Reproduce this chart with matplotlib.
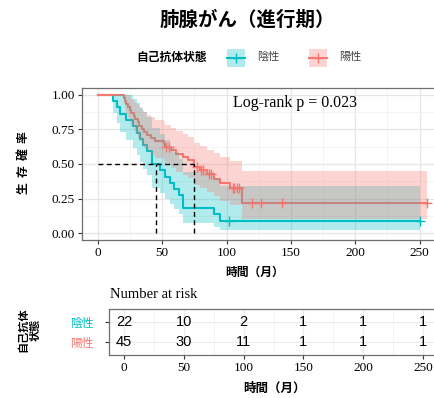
import numpy as np
import matplotlib
matplotlib.use("Agg")
import matplotlib.pyplot as plt
from matplotlib.patches import Rectangle

# ---------------- data ----------------
groups = ["陰性", "陽性"]
colors = ["#00BFC4", "#F8766D"]

# 陰性 (n=22)
neg_times = [12, 15, 17, 22, 27, 30, 33, 35, 38, 42, 42, 48, 52, 56, 59, 63, 66, 66,
             90, 95, 102, 250.4]
neg_status = [1] * 20 + [0, 0]

# 陽性 (n=45)
pos_times = [20, 21, 22, 23, 25, 26, 28, 29, 31, 32, 34, 36, 38, 41, 44,
             51, 52, 53, 55, 57, 61, 66, 70, 75, 75,
             77, 79, 80, 82, 85, 86, 88, 90, 95,
             103, 105, 106, 108, 110, 112, 112, 120, 127, 143, 256]
pos_status = [1] * 15 + [1, 1, 0, 0, 1, 1, 1, 1, 1, 1,
                         0, 1, 0, 0, 1, 0, 0, 1, 1,
                         1, 0, 0, 0, 0, 1, 1, 0, 0, 0, 0]

medians = [45, 75]
pval_text = "Log-rank p = 0.023"

risk_times = [0, 50, 100, 150, 200, 250]
risk_neg = [22, 10, 2, 1, 1, 1]
risk_pos = [45, 30, 11, 1, 1, 1]

x_ticks = [0, 50, 100, 150, 200, 250]
y_ticks = [0.0, 0.25, 0.5, 0.75, 1.0]
y_ticklabels = ["0.00", "0.25", "0.50", "0.75", "1.00"]

CJK = "Noto Sans CJK JP"
SERIF = "Liberation Serif"
SANS = "Liberation Sans"


def km(times, status):
    t = np.asarray(times, float)
    s = np.asarray(status)
    S, var = 1.0, 0.0
    xs, ys, lo, hi = [0.0], [1.0], [1.0], [1.0]
    cx, cy = [], []
    for u in np.unique(t):
        n = (t >= u).sum()
        d = ((t == u) & (s == 1)).sum()
        c = ((t == u) & (s == 0)).sum()
        if d > 0:
            S *= (n - d) / n
            if n > d:
                var += d / (n * (n - d))
        se = np.sqrt(var)
        xs.append(u); ys.append(S)
        if S > 0:
            lo.append(S * np.exp(-1.96 * se)); hi.append(min(1.0, S * np.exp(1.96 * se)))
        else:
            lo.append(0); hi.append(0)
        if c > 0:
            cx.append(u); cy.append(S)
    return xs, ys, lo, hi, cx, cy


W, H = 434, 398
fig = plt.figure(figsize=(W / 100, H / 100), dpi=100)

# ---------------- main panel ----------------
L, R, T, B = 81.9, 435.6, 87.8, 240.2
ax = fig.add_axes([L / W, 1 - B / H, (R - L) / W, (B - T) / H])
ax.set_xlim(-12.5, 262.5)
ax.set_ylim(-0.05, 1.05)

curves = [km(neg_times, neg_status), km(pos_times, pos_status)]
for (xs, ys, lo, hi, cx, cy), col in zip(curves, colors):
    ax.step(xs, ys, where="post", color=col, lw=1.5, zorder=3)
for (xs, ys, lo, hi, cx, cy), col in zip(curves, colors):
    ax.fill_between(xs, lo, hi, step="post", color=col, alpha=0.3, lw=0, zorder=4)
for (xs, ys, lo, hi, cx, cy), col in zip(curves, colors):
    ax.plot(cx, cy, ls="none", marker="+", ms=7, mew=1.0, color=col, zorder=5)

# median lines
ax.plot([0, max(medians)], [0.5, 0.5], ls=(0, (3.5, 2.5)), color="black", lw=1.0, zorder=6)
for m in medians:
    ax.plot([m, m], [0, 0.5], ls=(0, (3.5, 2.5)), color="black", lw=1.0, zorder=6)

ax.text(105, 0.94, pval_text, ha="left", va="center", fontsize=11.5, family=SERIF)

ax.set_xticks(x_ticks)
ax.set_xticklabels([str(v) for v in x_ticks], family=SERIF)
ax.set_yticks(y_ticks)
ax.set_yticklabels(y_ticklabels, family=SERIF)
ax.set_xticks([25, 75, 125, 175, 225], minor=True)
ax.set_yticks([0.125, 0.375, 0.625, 0.875], minor=True)
ax.grid(which="major", color="#E6E6E6", lw=0.9, zorder=0)
ax.grid(which="minor", color="#F2F2F2", lw=0.6, zorder=0)
ax.set_axisbelow(True)
ax.tick_params(which="major", direction="out", length=3, width=0.8, color="#333333",
               labelsize=9.5, labelcolor="black", pad=2)
ax.tick_params(which="minor", length=0)
for sp in ax.spines.values():
    sp.set_color("#6E6E6E"); sp.set_linewidth(0.9)

# ---------------- risk table ----------------
L2, R2, T2, B2 = 109.05, 438.0, 309.0, 355.0
ax2 = fig.add_axes([L2 / W, 1 - B2 / H, (R2 - L2) / W, (B2 - T2) / H])
ax2.set_xlim(-12.5, 262.5)
ax2.set_ylim(2.6, 0.4)
for row, vals in enumerate([risk_neg, risk_pos], start=1):
    for tt, v in zip(risk_times, vals):
        ax2.text(tt, row, str(v), ha="center", va="center", fontsize=10.5, family=SANS,
                 color="black")
ax2.set_xticks(x_ticks)
ax2.set_xticklabels([str(v) for v in x_ticks], family=SERIF)
ax2.set_yticks([1, 2])
ax2.set_yticklabels(groups, family=CJK)
for lab, col in zip(ax2.get_yticklabels(), colors):
    lab.set_color(col)
ax2.set_xticks([25, 75, 125, 175, 225], minor=True)
ax2.grid(which="major", color="#EBEBEB", lw=0.8, zorder=0)
ax2.grid(which="minor", axis="x", color="#F2F2F2", lw=0.6, zorder=0)
ax2.set_axisbelow(True)
ax2.tick_params(axis="x", which="major", direction="out", length=3, width=0.8,
                color="#333333", labelsize=9.5, pad=2)
ax2.tick_params(axis="y", which="major", direction="out", length=3, width=0.8,
                color="#333333", labelsize=8.5, pad=8.5)
ax2.tick_params(which="minor", length=0)
for sp in ax2.spines.values():
    sp.set_color("#6E6E6E"); sp.set_linewidth(0.9)

# ---------------- texts ----------------
fig.text(247 / W, 1 - 20 / H, "肺腺がん（進行期）", ha="center", va="center",
         fontsize=14, fontweight="bold", family=CJK)
fig.text(23 / W, 1 - 163 / H, "生  存  確  率", ha="center", va="center", rotation=90,
         fontsize=8.5, fontweight="bold", family=CJK)
fig.text(255 / W, 1 - 272.5 / H, "時間（月）", ha="center", va="center",
         fontsize=8.5, fontweight="bold", family=CJK)
fig.text(110 / W, 1 - 295 / H, "Number at risk", ha="left", va="center",
         fontsize=10.5, family=SERIF)
fig.text(275 / W, 1 - 388 / H, "時間（月）", ha="center", va="center",
         fontsize=9, fontweight="bold", family=CJK)
fig.text(29 / W, 1 - 330 / H, "自己抗体\n状態", ha="center", va="center", rotation=90,
         fontsize=8, fontweight="bold", family=CJK, linespacing=1.0, multialignment="center")

# ---------------- legend ----------------
lax = fig.add_axes([0, 0, 1, 1])
lax.set_xlim(0, W); lax.set_ylim(H, 0); lax.axis("off")
fig.text(172 / W, 1 - 57 / H, "自己抗体状態", ha="center", va="center",
         fontsize=8.5, fontweight="bold", family=CJK)
for x0, lbl, col in [(227, "陰性", colors[0]), (309, "陽性", colors[1])]:
    lax.add_patch(Rectangle((x0, 49), 18, 18, facecolor=col, alpha=0.3, lw=0))
    lax.plot([x0, x0 + 18], [58, 58], color=col, lw=1.5)
    lax.plot([x0 + 9], [58], marker="+", ms=7, mew=1.0, color=col)
    lax.text(x0 + 30, 57, lbl, ha="left", va="center", fontsize=8, family=CJK,
             color="#444444")

fig.savefig("out.png", dpi=100)
